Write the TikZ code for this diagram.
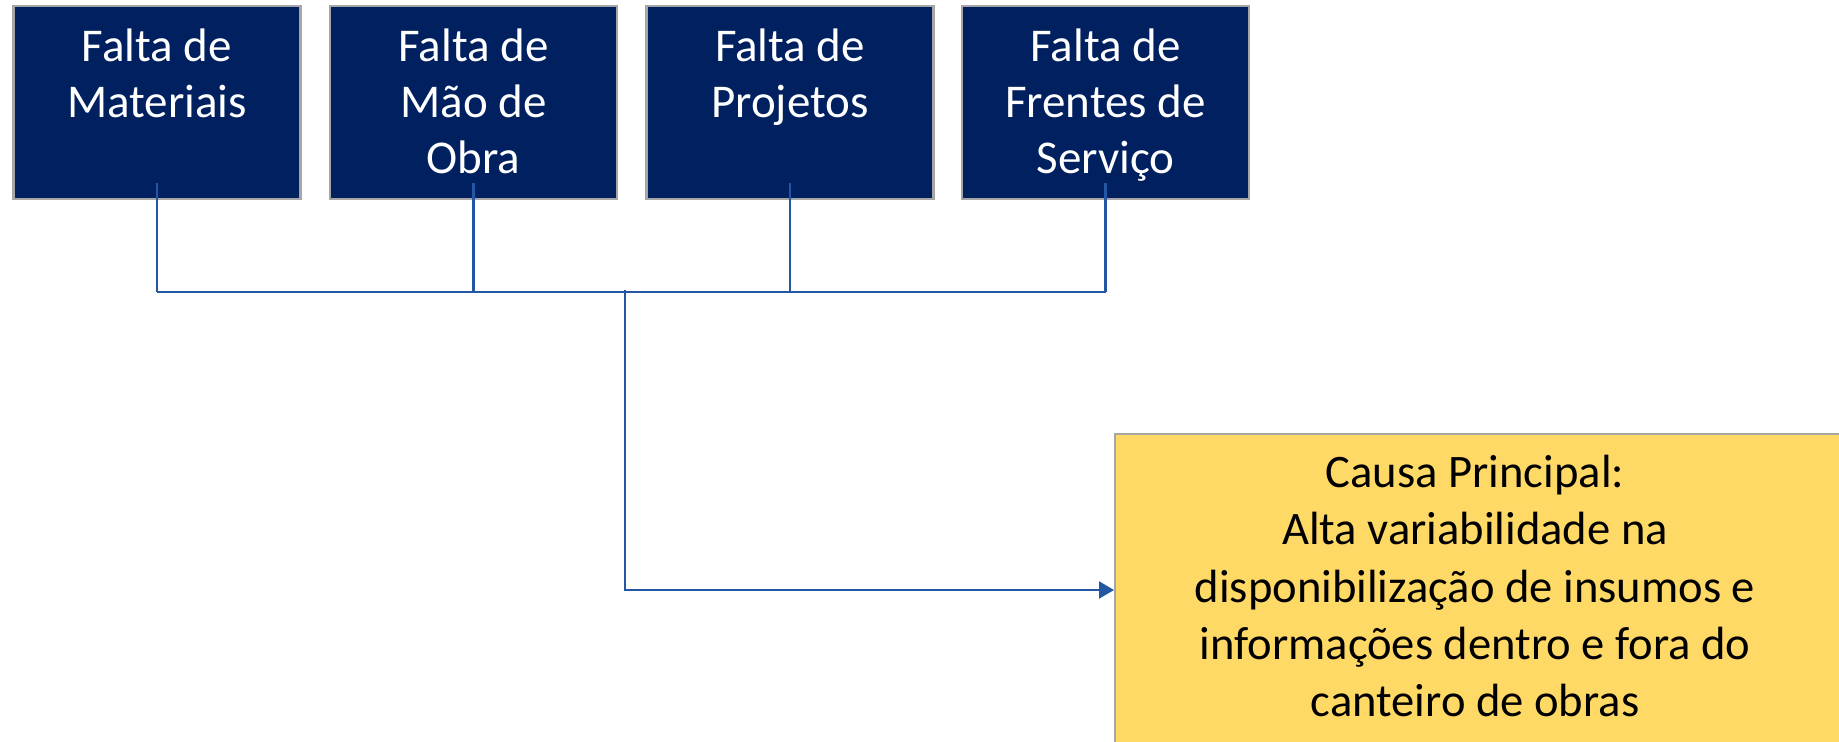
\documentclass[tikz,border=0pt]{standalone}
\usepackage{fontspec}
\setmainfont{Carlito}
\usetikzlibrary{arrows.meta,calc}
\definecolor{navy}{HTML}{002060}
\definecolor{edgegrey}{HTML}{A6A6A6}
\definecolor{linkblue}{HTML}{2457A3}
\definecolor{gold}{HTML}{FFD966}
\tikzset{
  causebox/.style={draw=edgegrey, line width=1.2pt, fill=navy, minimum width=143.5pt, minimum height=96.5pt, inner sep=0pt},
  causetxt/.style={text=white, font=\fontsize{23.5}{28.2}\selectfont, align=center, inner sep=0pt, anchor=north},
  mainbox/.style={draw=edgegrey, line width=1.2pt, fill=gold, inner sep=0pt},
  maintxt/.style={text=black, font=\fontsize{23.3}{28.6}\selectfont, align=center, inner sep=0pt},
  link/.style={draw=linkblue, line width=1.1pt},
  arrowlink/.style={link, -{Triangle[length=7.5pt,width=8.5pt]}}
}
\begin{document}
\begin{tikzpicture}[x=0.5pt,y=-0.5pt]
\useasboundingbox (0,0) rectangle (1839,741);
\clip (0,0) rectangle (1839,741);
\fill[white] (0,0) rectangle (1839,741);
% cause boxes
\node[causebox] (b1) at (157,102.5) {};
\node[causebox] (b2) at (473.5,102.5) {};
\node[causebox] (b3) at (790,102.5) {};
\node[causebox] (b4) at (1105.5,102.5) {};
\node[causetxt] (t1) at (157,28) {Falta de\\Materiais};
\node[causetxt] (t2) at (473.5,28) {Falta de\\Mão de\\Obra};
\node[causetxt] (t3) at (790,28) {Falta de\\Projetos};
\node[causetxt] (t4) at (1105.5,28) {Falta de\\Frentes de\\Serviço};
% main cause box
\node[mainbox, minimum width=370pt, minimum height=160pt, anchor=north west] (m) at (1114,433) {};
\node[maintxt] (mt) at (1475,586) {Causa Principal:\\Alta variabilidade na\\disponibilização de insumos e\\informações dentro e fora do\\canteiro de obras};
% connectors
\coordinate (j1) at (b1.south |- 0,292);
\coordinate (j4) at (b4.south |- 0,292);
\coordinate (trunk) at (625,292);
\coordinate (bend) at (625,590);
\draw[link] ([yshift=8.5pt]b1.south) -- (j1);
\draw[link] ([yshift=8.5pt]b2.south) -- (b2.south |- 0,292);
\draw[link] ([yshift=8.5pt]b3.south) -- (b3.south |- 0,292);
\draw[link] ([yshift=8.5pt]b4.south) -- (j4);
\draw[link] (j1) -- (j4);
\draw[arrowlink] ([yshift=1pt]trunk) -- (bend) -- (m.west |- bend);
\end{tikzpicture}
\end{document}
